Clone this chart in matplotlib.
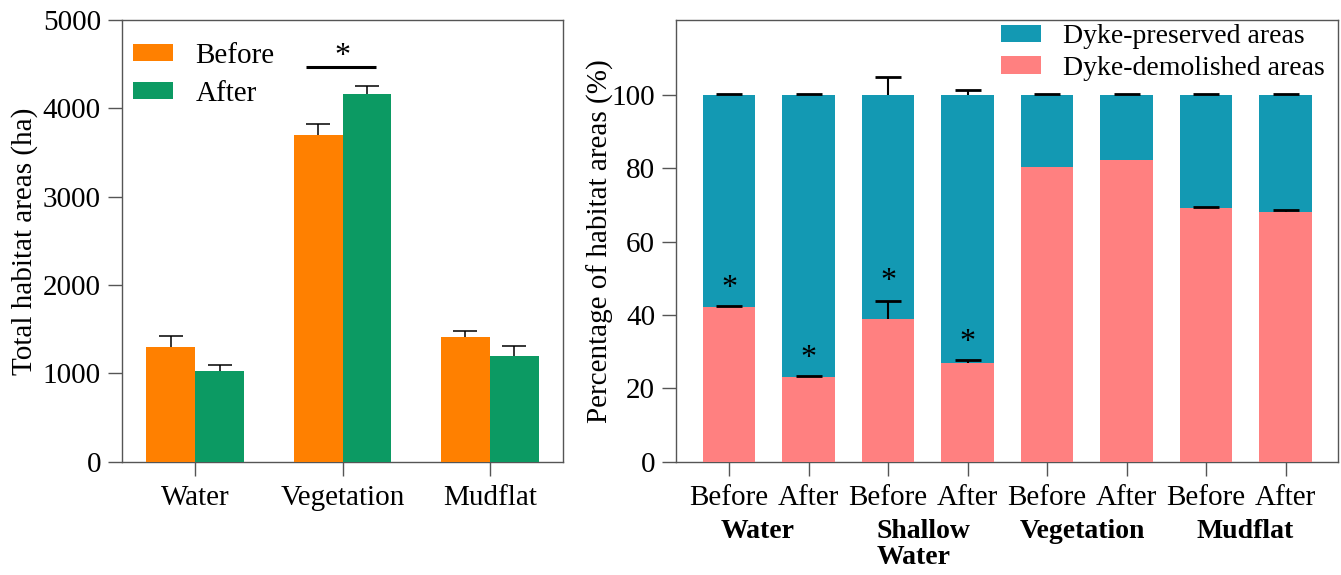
import matplotlib.pyplot as plt
import numpy as np

plt.rcParams['font.family'] = ['Liberation Serif', 'DejaVu Serif']

# left panel: total habitat areas (ha)
habitats = ["Water", "Vegetation", "Mudflat"]
total_before = [1297, 3695, 1413]
total_before_err = [124, 133, 67]
total_after = [1031, 4165, 1201]
total_after_err = [62, 87, 104]

# right panel: percentage of habitat areas (%)
period_labels = ["Before", "After"] * 4
group_labels = ["Water", "Shallow\nWater", "Vegetation", "Mudflat"]
group_pos = [0.36, 2.44, 4.45, 6.49]
demolished = [42.1, 23.1, 38.8, 26.8, 80.2, 82.2, 69.2, 68.2]
demolished_err = [0.3, 0.3, 5.0, 0.8, 0, 0, 0.3, 0.3]
top_err = [0.3, 0.3, 5.0, 1.3, 0.3, 0.3, 0.3, 0.3]
star_bars = [0, 1, 2, 3]
star_y = [48.7, 29.6, 50.5, 33.9]

orange = '#FF8000'
green = '#0C9A63'
teal = '#1399B3'
pink = '#FF8080'
spine_c = '#555555'
fs = 21


def up_errorbar(ax, x, y, err, capsize, lw, capthick):
    eb = ax.errorbar(x, y, yerr=[np.zeros(len(err)), err], fmt='none',
                     ecolor='black', elinewidth=lw, capsize=capsize,
                     capthick=capthick, zorder=4)
    eb[1][0].set_visible(False)  # hide lower caps


def style(ax):
    for s in ax.spines.values():
        s.set_color(spine_c)
        s.set_linewidth(1.0)
    ax.tick_params(direction='out', length=10, width=1, color=spine_c,
                   labelsize=fs, pad=5)
    ax.tick_params(axis='x', pad=7)


def star(ax, x, y):
    ax.annotate('*', (x, y), xytext=(0, -9), textcoords='offset points',
                ha='center', va='baseline', fontsize=23)


fig = plt.figure(figsize=(13.41, 5.75), dpi=100)
ax1 = fig.add_axes([0.0908, 0.197, 0.3293, 0.7682])
ax2 = fig.add_axes([0.5041, 0.197, 0.4937, 0.7682])

# ---- left
x = np.arange(len(habitats))
w = 0.332
ax1.bar(x - w / 2, total_before, w, color=orange, label='Before', zorder=3)
ax1.bar(x + w / 2, total_after, w, color=green, label='After', zorder=3)
up_errorbar(ax1, x - w / 2, total_before, total_before_err, 8.6, 1.1, 1.1)
up_errorbar(ax1, x + w / 2, total_after, total_after_err, 8.6, 1.1, 1.1)
ax1.plot([0.753, 1.228], [4472, 4472], color='black', lw=2.2,
         solid_capstyle='butt')
star(ax1, 1.0, 4647)
ax1.set_xlim(-0.5, 2.5)
ax1.set_ylim(0, 5000)
ax1.set_yticks(range(0, 5001, 1000))
ax1.set_xticks(x)
ax1.set_xticklabels(habitats)
ax1.set_ylabel('Total habitat areas (ha)', fontsize=fs)
ax1.yaxis.set_label_coords(-0.19, 0.5)
style(ax1)
ax1.legend(loc='upper left', bbox_to_anchor=(0.026, 0.948), frameon=False,
           fontsize=fs, borderpad=0, borderaxespad=0, handlelength=1.37,
           handleheight=0.55, handletextpad=0.77, labelspacing=0.4)

# ---- right
xr = np.arange(len(demolished))
bw = 0.66
preserved = [100 - d for d in demolished]
ax2.bar(xr, preserved, bw, bottom=demolished, color=teal,
        label='Dyke-preserved areas', zorder=3)
ax2.bar(xr, demolished, bw, color=pink, label='Dyke-demolished areas',
        zorder=3)
idx = [i for i, e in enumerate(demolished_err) if e > 0]
up_errorbar(ax2, xr[idx], [demolished[i] for i in idx],
            [demolished_err[i] for i in idx], 9.4, 1.5, 2.0)
up_errorbar(ax2, xr, [d + p for d, p in zip(demolished, preserved)],
            top_err, 9.4, 1.5, 2.0)
for b, sy in zip(star_bars, star_y):
    star(ax2, xr[b], sy)
ax2.set_xlim(-0.67, 7.66)
ax2.set_ylim(0, 120.4)
ax2.set_yticks(range(0, 101, 20))
ax2.set_xticks(xr)
ax2.set_xticklabels(period_labels)
ax2.set_ylabel('Percentage of habitat areas (%)', fontsize=fs)
ax2.yaxis.set_label_coords(-0.094, 0.5)
style(ax2)
for gx, gl in zip(group_pos, group_labels):
    ax2.text(gx, -0.13, gl, transform=ax2.get_xaxis_transform(),
             ha='center', va='top', fontsize=20, fontweight='bold',
             multialignment='left', linespacing=1.05)
ax2.legend(loc='upper left', bbox_to_anchor=(0.4905, 0.99), frameon=False,
           fontsize=20, borderpad=0, borderaxespad=0, handlelength=1.44,
           handleheight=0.6, handletextpad=0.8, labelspacing=0.24)

fig.savefig('out.png', dpi=100)
